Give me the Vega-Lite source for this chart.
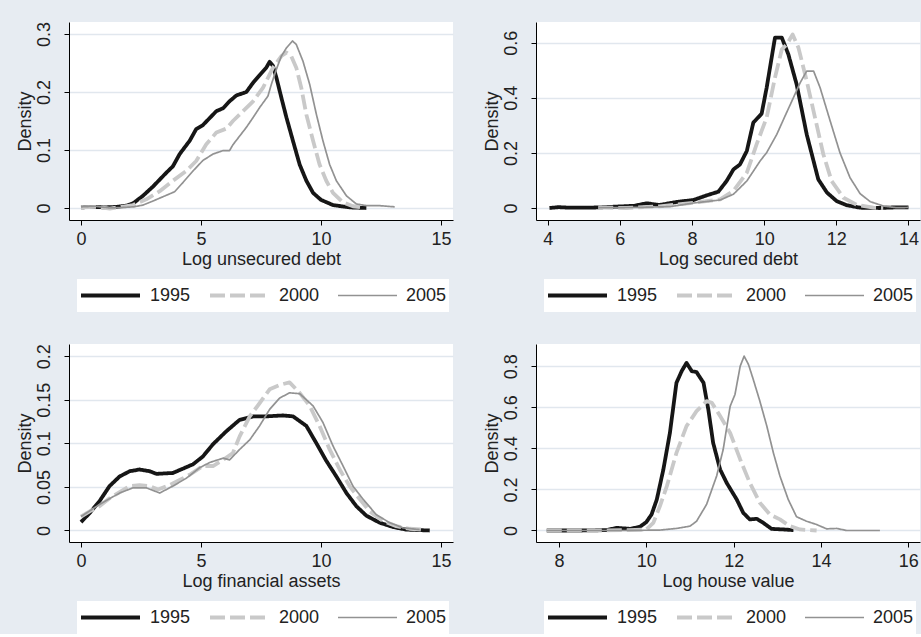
{
  "$schema": "https://vega.github.io/schema/vega-lite/v6.json",
  "background": "#E7ECF2",
  "padding": {"left": 15, "top": 21, "right": 1, "bottom": 0},
  "autosize": {"type": "pad"},
  "columns": 2,
  "spacing": {"row": 124, "column": 83},
  "bounds": "flush",
  "resolve": {
    "scale": {"x": "independent", "y": "independent"},
    "legend": {"color": "independent", "strokeDash": "independent", "strokeWidth": "independent"}
  },
  "config": {
    "view": {"fill": "white", "stroke": null},
    "axis": {
      "domainColor": "#000", "domainWidth": 1, "tickColor": "#000", "tickSize": 5, "tickWidth": 1,
      "labelFont": "Liberation Sans", "labelFontSize": 18, "labelColor": "#222",
      "titleFont": "Liberation Sans", "titleFontSize": 18, "titleFontWeight": "normal", "titleColor": "#222",
      "gridColor": "#E1E7EE", "gridWidth": 1.5
    },
    "axisX": {"grid": false, "labelPadding": 5, "titlePadding": 2},
    "axisY": {"grid": true, "labelAngle": 270, "labelAlign": "center", "labelBaseline": "bottom", "labelPadding": 11, "titlePadding": 1, "format": "~g"},
    "legend": {
      "direction": "horizontal", "fillColor": "white", "padding": 2, "clipHeight": 29,
      "symbolType": "stroke", "symbolSize": 3481, "labelFont": "Liberation Sans", "labelFontSize": 18,
      "labelColor": "#222", "labelOffset": 8, "columnPadding": 17
    }
  },
  "datasets": {
    "p1": [
      {"x":0,"density":0.001,"year":"1995"},{"x":0.5,"density":0.002,"year":"1995"},{"x":1,"density":0.001,"year":"1995"},{"x":1.5,"density":0.002,"year":"1995"},{"x":1.9,"density":0.004,"year":"1995"},{"x":2.17,"density":0.008,"year":"1995"},{"x":2.58,"density":0.021,"year":"1995"},{"x":3.0,"density":0.037,"year":"1995"},{"x":3.56,"density":0.061,"year":"1995"},{"x":3.83,"density":0.072,"year":"1995"},{"x":4.11,"density":0.093,"year":"1995"},{"x":4.53,"density":0.116,"year":"1995"},{"x":4.8,"density":0.136,"year":"1995"},{"x":5.08,"density":0.143,"year":"1995"},{"x":5.36,"density":0.155,"year":"1995"},{"x":5.64,"density":0.167,"year":"1995"},{"x":5.92,"density":0.172,"year":"1995"},{"x":6.19,"density":0.184,"year":"1995"},{"x":6.47,"density":0.194,"year":"1995"},{"x":6.89,"density":0.2,"year":"1995"},{"x":7.17,"density":0.216,"year":"1995"},{"x":7.44,"density":0.229,"year":"1995"},{"x":7.72,"density":0.242,"year":"1995"},{"x":7.86,"density":0.252,"year":"1995"},{"x":8.0,"density":0.245,"year":"1995"},{"x":8.14,"density":0.225,"year":"1995"},{"x":8.35,"density":0.19,"year":"1995"},{"x":8.56,"density":0.156,"year":"1995"},{"x":8.83,"density":0.116,"year":"1995"},{"x":9.11,"density":0.075,"year":"1995"},{"x":9.39,"density":0.047,"year":"1995"},{"x":9.67,"density":0.026,"year":"1995"},{"x":10.0,"density":0.014,"year":"1995"},{"x":10.5,"density":0.005,"year":"1995"},{"x":11.2,"density":0.001,"year":"1995"},{"x":11.89,"density":0,"year":"1995"},
      {"x":0,"density":0.001,"year":"2000"},{"x":0.7,"density":0.002,"year":"2000"},{"x":1.2,"density":-0.001,"year":"2000"},{"x":1.7,"density":0.002,"year":"2000"},{"x":2.17,"density":0.005,"year":"2000"},{"x":2.72,"density":0.015,"year":"2000"},{"x":3.28,"density":0.029,"year":"2000"},{"x":3.83,"density":0.047,"year":"2000"},{"x":4.39,"density":0.064,"year":"2000"},{"x":4.8,"density":0.081,"year":"2000"},{"x":5.22,"density":0.11,"year":"2000"},{"x":5.64,"density":0.13,"year":"2000"},{"x":6.06,"density":0.137,"year":"2000"},{"x":6.33,"density":0.15,"year":"2000"},{"x":6.75,"density":0.167,"year":"2000"},{"x":7.17,"density":0.184,"year":"2000"},{"x":7.58,"density":0.207,"year":"2000"},{"x":8.0,"density":0.242,"year":"2000"},{"x":8.35,"density":0.262,"year":"2000"},{"x":8.56,"density":0.268,"year":"2000"},{"x":8.76,"density":0.262,"year":"2000"},{"x":8.97,"density":0.242,"year":"2000"},{"x":9.18,"density":0.207,"year":"2000"},{"x":9.39,"density":0.161,"year":"2000"},{"x":9.67,"density":0.116,"year":"2000"},{"x":9.94,"density":0.075,"year":"2000"},{"x":10.22,"density":0.047,"year":"2000"},{"x":10.5,"density":0.026,"year":"2000"},{"x":10.9,"density":0.01,"year":"2000"},{"x":11.33,"density":0.003,"year":"2000"},{"x":11.75,"density":0.001,"year":"2000"},
      {"x":0,"density":0.002,"year":"2005"},{"x":0.6,"density":0.003,"year":"2005"},{"x":1.2,"density":0,"year":"2005"},{"x":1.8,"density":0.001,"year":"2005"},{"x":2.2,"density":0.002,"year":"2005"},{"x":2.58,"density":0.005,"year":"2005"},{"x":3.0,"density":0.012,"year":"2005"},{"x":3.56,"density":0.022,"year":"2005"},{"x":3.9,"density":0.028,"year":"2005"},{"x":4.25,"density":0.044,"year":"2005"},{"x":4.67,"density":0.064,"year":"2005"},{"x":5.08,"density":0.082,"year":"2005"},{"x":5.5,"density":0.093,"year":"2005"},{"x":5.92,"density":0.099,"year":"2005"},{"x":6.19,"density":0.099,"year":"2005"},{"x":6.33,"density":0.109,"year":"2005"},{"x":6.61,"density":0.124,"year":"2005"},{"x":6.89,"density":0.139,"year":"2005"},{"x":7.17,"density":0.156,"year":"2005"},{"x":7.44,"density":0.173,"year":"2005"},{"x":7.79,"density":0.193,"year":"2005"},{"x":7.93,"density":0.213,"year":"2005"},{"x":8.14,"density":0.239,"year":"2005"},{"x":8.35,"density":0.262,"year":"2005"},{"x":8.56,"density":0.276,"year":"2005"},{"x":8.81,"density":0.288,"year":"2005"},{"x":8.97,"density":0.282,"year":"2005"},{"x":9.25,"density":0.253,"year":"2005"},{"x":9.53,"density":0.213,"year":"2005"},{"x":9.81,"density":0.161,"year":"2005"},{"x":10.08,"density":0.116,"year":"2005"},{"x":10.36,"density":0.075,"year":"2005"},{"x":10.64,"density":0.047,"year":"2005"},{"x":11.06,"density":0.021,"year":"2005"},{"x":11.47,"density":0.007,"year":"2005"},{"x":11.89,"density":0.004,"year":"2005"},{"x":12.44,"density":0.004,"year":"2005"},{"x":13.07,"density":0.002,"year":"2005"}
    ],
    "p2": [
      {"x":4.05,"density":0,"year":"1995"},{"x":4.3,"density":0.003,"year":"1995"},{"x":4.6,"density":0.001,"year":"1995"},{"x":5.0,"density":0.001,"year":"1995"},{"x":5.4,"density":0.002,"year":"1995"},{"x":5.9,"density":0.005,"year":"1995"},{"x":6.4,"density":0.008,"year":"1995"},{"x":6.74,"density":0.017,"year":"1995"},{"x":7.1,"density":0.011,"year":"1995"},{"x":7.58,"density":0.022,"year":"1995"},{"x":8.04,"density":0.029,"year":"1995"},{"x":8.41,"density":0.046,"year":"1995"},{"x":8.73,"density":0.059,"year":"1995"},{"x":8.96,"density":0.098,"year":"1995"},{"x":9.15,"density":0.14,"year":"1995"},{"x":9.33,"density":0.158,"year":"1995"},{"x":9.52,"density":0.207,"year":"1995"},{"x":9.7,"density":0.31,"year":"1995"},{"x":9.93,"density":0.342,"year":"1995"},{"x":10.07,"density":0.437,"year":"1995"},{"x":10.3,"density":0.618,"year":"1995"},{"x":10.49,"density":0.618,"year":"1995"},{"x":10.67,"density":0.558,"year":"1995"},{"x":10.9,"density":0.449,"year":"1995"},{"x":11.18,"density":0.267,"year":"1995"},{"x":11.5,"density":0.104,"year":"1995"},{"x":11.74,"density":0.056,"year":"1995"},{"x":12.01,"density":0.025,"year":"1995"},{"x":12.29,"density":0.01,"year":"1995"},{"x":12.66,"density":0.001,"year":"1995"},{"x":13.2,"density":0,"year":"1995"},{"x":13.6,"density":0.002,"year":"1995"},{"x":14.0,"density":0.002,"year":"1995"},
      {"x":5.4,"density":0.002,"year":"2000"},{"x":6.19,"density":0,"year":"2000"},{"x":7.1,"density":0.006,"year":"2000"},{"x":8.04,"density":0.019,"year":"2000"},{"x":8.78,"density":0.031,"year":"2000"},{"x":9.15,"density":0.062,"year":"2000"},{"x":9.52,"density":0.128,"year":"2000"},{"x":9.79,"density":0.231,"year":"2000"},{"x":10.07,"density":0.328,"year":"2000"},{"x":10.3,"density":0.473,"year":"2000"},{"x":10.49,"density":0.576,"year":"2000"},{"x":10.63,"density":0.594,"year":"2000"},{"x":10.79,"density":0.63,"year":"2000"},{"x":10.95,"density":0.582,"year":"2000"},{"x":11.18,"density":0.461,"year":"2000"},{"x":11.41,"density":0.328,"year":"2000"},{"x":11.64,"density":0.195,"year":"2000"},{"x":11.87,"density":0.098,"year":"2000"},{"x":12.2,"density":0.037,"year":"2000"},{"x":12.57,"density":0.011,"year":"2000"},{"x":13.03,"density":0.001,"year":"2000"},{"x":13.3,"density":0,"year":"2000"},
      {"x":5.4,"density":0.001,"year":"2005"},{"x":6.5,"density":0.002,"year":"2005"},{"x":7.4,"density":0.005,"year":"2005"},{"x":8.04,"density":0.018,"year":"2005"},{"x":8.78,"density":0.029,"year":"2005"},{"x":9.15,"density":0.05,"year":"2005"},{"x":9.52,"density":0.098,"year":"2005"},{"x":9.89,"density":0.171,"year":"2005"},{"x":10.07,"density":0.201,"year":"2005"},{"x":10.35,"density":0.267,"year":"2005"},{"x":10.58,"density":0.334,"year":"2005"},{"x":10.81,"density":0.4,"year":"2005"},{"x":11.0,"density":0.455,"year":"2005"},{"x":11.18,"density":0.497,"year":"2005"},{"x":11.37,"density":0.497,"year":"2005"},{"x":11.55,"density":0.437,"year":"2005"},{"x":11.83,"density":0.316,"year":"2005"},{"x":12.1,"density":0.201,"year":"2005"},{"x":12.38,"density":0.11,"year":"2005"},{"x":12.66,"density":0.052,"year":"2005"},{"x":12.94,"density":0.023,"year":"2005"},{"x":13.31,"density":0.007,"year":"2005"},{"x":13.68,"density":0.001,"year":"2005"},{"x":14.0,"density":0.002,"year":"2005"}
    ],
    "p3": [
      {"x":0,"density":0.0096,"year":"1995"},{"x":0.36,"density":0.02,"year":"1995"},{"x":0.78,"density":0.034,"year":"1995"},{"x":1.19,"density":0.051,"year":"1995"},{"x":1.61,"density":0.062,"year":"1995"},{"x":2.03,"density":0.068,"year":"1995"},{"x":2.44,"density":0.07,"year":"1995"},{"x":2.86,"density":0.068,"year":"1995"},{"x":3.14,"density":0.065,"year":"1995"},{"x":3.83,"density":0.066,"year":"1995"},{"x":4.25,"density":0.071,"year":"1995"},{"x":4.67,"density":0.076,"year":"1995"},{"x":5.08,"density":0.085,"year":"1995"},{"x":5.5,"density":0.099,"year":"1995"},{"x":6.06,"density":0.114,"year":"1995"},{"x":6.61,"density":0.127,"year":"1995"},{"x":7.17,"density":0.131,"year":"1995"},{"x":7.72,"density":0.131,"year":"1995"},{"x":8.42,"density":0.132,"year":"1995"},{"x":8.83,"density":0.131,"year":"1995"},{"x":9.39,"density":0.12,"year":"1995"},{"x":9.81,"density":0.1,"year":"1995"},{"x":10.22,"density":0.08,"year":"1995"},{"x":10.64,"density":0.062,"year":"1995"},{"x":11.06,"density":0.043,"year":"1995"},{"x":11.47,"density":0.028,"year":"1995"},{"x":11.89,"density":0.017,"year":"1995"},{"x":12.44,"density":0.009,"year":"1995"},{"x":13.0,"density":0.004,"year":"1995"},{"x":13.56,"density":0.001,"year":"1995"},{"x":14.53,"density":0,"year":"1995"},
      {"x":0,"density":0.016,"year":"2000"},{"x":0.36,"density":0.022,"year":"2000"},{"x":0.78,"density":0.028,"year":"2000"},{"x":1.19,"density":0.037,"year":"2000"},{"x":1.61,"density":0.044,"year":"2000"},{"x":2.03,"density":0.051,"year":"2000"},{"x":2.44,"density":0.052,"year":"2000"},{"x":2.86,"density":0.051,"year":"2000"},{"x":3.21,"density":0.047,"year":"2000"},{"x":3.69,"density":0.052,"year":"2000"},{"x":4.11,"density":0.058,"year":"2000"},{"x":4.53,"density":0.064,"year":"2000"},{"x":5.08,"density":0.074,"year":"2000"},{"x":5.5,"density":0.074,"year":"2000"},{"x":5.92,"density":0.081,"year":"2000"},{"x":6.33,"density":0.089,"year":"2000"},{"x":6.61,"density":0.108,"year":"2000"},{"x":7.03,"density":0.131,"year":"2000"},{"x":7.44,"density":0.146,"year":"2000"},{"x":7.86,"density":0.162,"year":"2000"},{"x":8.28,"density":0.167,"year":"2000"},{"x":8.69,"density":0.17,"year":"2000"},{"x":9.11,"density":0.158,"year":"2000"},{"x":9.53,"density":0.143,"year":"2000"},{"x":9.94,"density":0.12,"year":"2000"},{"x":10.36,"density":0.093,"year":"2000"},{"x":10.78,"density":0.07,"year":"2000"},{"x":11.19,"density":0.051,"year":"2000"},{"x":11.61,"density":0.036,"year":"2000"},{"x":12.03,"density":0.022,"year":"2000"},{"x":12.58,"density":0.011,"year":"2000"},{"x":13.14,"density":0.005,"year":"2000"},{"x":13.69,"density":0.002,"year":"2000"},{"x":14.25,"density":0.001,"year":"2000"},
      {"x":0,"density":0.016,"year":"2005"},{"x":0.78,"density":0.03,"year":"2005"},{"x":1.61,"density":0.043,"year":"2005"},{"x":2.17,"density":0.049,"year":"2005"},{"x":2.72,"density":0.049,"year":"2005"},{"x":3.28,"density":0.043,"year":"2005"},{"x":3.83,"density":0.051,"year":"2005"},{"x":4.39,"density":0.06,"year":"2005"},{"x":4.94,"density":0.072,"year":"2005"},{"x":5.36,"density":0.078,"year":"2005"},{"x":5.92,"density":0.083,"year":"2005"},{"x":6.19,"density":0.081,"year":"2005"},{"x":6.61,"density":0.093,"year":"2005"},{"x":7.03,"density":0.104,"year":"2005"},{"x":7.44,"density":0.12,"year":"2005"},{"x":7.86,"density":0.139,"year":"2005"},{"x":8.28,"density":0.152,"year":"2005"},{"x":8.69,"density":0.158,"year":"2005"},{"x":9.11,"density":0.157,"year":"2005"},{"x":9.67,"density":0.143,"year":"2005"},{"x":10.08,"density":0.124,"year":"2005"},{"x":10.5,"density":0.097,"year":"2005"},{"x":10.92,"density":0.074,"year":"2005"},{"x":11.33,"density":0.051,"year":"2005"},{"x":11.75,"density":0.036,"year":"2005"},{"x":12.31,"density":0.018,"year":"2005"},{"x":12.86,"density":0.009,"year":"2005"},{"x":13.42,"density":0.003,"year":"2005"},{"x":14.11,"density":0.001,"year":"2005"}
    ],
    "p4": [
      {"x":7.72,"density":0,"year":"1995"},{"x":8.5,"density":0,"year":"1995"},{"x":9.09,"density":0.002,"year":"1995"},{"x":9.32,"density":0.013,"year":"1995"},{"x":9.63,"density":0.008,"year":"1995"},{"x":9.85,"density":0.018,"year":"1995"},{"x":10.0,"density":0.041,"year":"1995"},{"x":10.12,"density":0.078,"year":"1995"},{"x":10.24,"density":0.151,"year":"1995"},{"x":10.39,"density":0.297,"year":"1995"},{"x":10.54,"density":0.475,"year":"1995"},{"x":10.69,"density":0.719,"year":"1995"},{"x":10.81,"density":0.776,"year":"1995"},{"x":10.92,"density":0.816,"year":"1995"},{"x":11.04,"density":0.776,"year":"1995"},{"x":11.15,"density":0.771,"year":"1995"},{"x":11.31,"density":0.719,"year":"1995"},{"x":11.42,"density":0.589,"year":"1995"},{"x":11.53,"density":0.427,"year":"1995"},{"x":11.69,"density":0.297,"year":"1995"},{"x":11.84,"density":0.232,"year":"1995"},{"x":12.07,"density":0.151,"year":"1995"},{"x":12.22,"density":0.086,"year":"1995"},{"x":12.37,"density":0.054,"year":"1995"},{"x":12.53,"density":0.057,"year":"1995"},{"x":12.68,"density":0.037,"year":"1995"},{"x":12.87,"density":0.008,"year":"1995"},{"x":13.14,"density":0.005,"year":"1995"},{"x":13.37,"density":0.002,"year":"1995"},
      {"x":7.72,"density":0,"year":"2000"},{"x":9.0,"density":0,"year":"2000"},{"x":9.6,"density":0.002,"year":"2000"},{"x":10.0,"density":0.005,"year":"2000"},{"x":10.16,"density":0.037,"year":"2000"},{"x":10.31,"density":0.118,"year":"2000"},{"x":10.47,"density":0.216,"year":"2000"},{"x":10.69,"density":0.378,"year":"2000"},{"x":10.92,"density":0.508,"year":"2000"},{"x":11.15,"density":0.581,"year":"2000"},{"x":11.38,"density":0.63,"year":"2000"},{"x":11.5,"density":0.622,"year":"2000"},{"x":11.69,"density":0.557,"year":"2000"},{"x":11.92,"density":0.475,"year":"2000"},{"x":12.15,"density":0.346,"year":"2000"},{"x":12.37,"density":0.232,"year":"2000"},{"x":12.6,"density":0.135,"year":"2000"},{"x":12.83,"density":0.078,"year":"2000"},{"x":13.06,"density":0.054,"year":"2000"},{"x":13.29,"density":0.021,"year":"2000"},{"x":13.52,"density":0.005,"year":"2000"},{"x":13.9,"density":0,"year":"2000"},
      {"x":7.72,"density":0,"year":"2005"},{"x":9.5,"density":0,"year":"2005"},{"x":10.31,"density":0.002,"year":"2005"},{"x":10.69,"density":0.01,"year":"2005"},{"x":11.0,"density":0.021,"year":"2005"},{"x":11.15,"density":0.045,"year":"2005"},{"x":11.38,"density":0.127,"year":"2005"},{"x":11.61,"density":0.265,"year":"2005"},{"x":11.76,"density":0.394,"year":"2005"},{"x":11.92,"density":0.605,"year":"2005"},{"x":12.03,"density":0.662,"year":"2005"},{"x":12.15,"density":0.8,"year":"2005"},{"x":12.24,"density":0.849,"year":"2005"},{"x":12.34,"density":0.808,"year":"2005"},{"x":12.45,"density":0.735,"year":"2005"},{"x":12.6,"density":0.63,"year":"2005"},{"x":12.76,"density":0.508,"year":"2005"},{"x":12.91,"density":0.378,"year":"2005"},{"x":13.06,"density":0.265,"year":"2005"},{"x":13.25,"density":0.151,"year":"2005"},{"x":13.44,"density":0.067,"year":"2005"},{"x":13.67,"density":0.045,"year":"2005"},{"x":13.9,"density":0.029,"year":"2005"},{"x":14.13,"density":0.008,"year":"2005"},{"x":14.36,"density":0.01,"year":"2005"},{"x":14.59,"density":0,"year":"2005"},{"x":15.35,"density":0,"year":"2005"}
    ]
  },
  "concat": [
    {
      "width": 384, "height": 198,
      "data": {"name": "p1"},
      "mark": {"type": "line", "strokeJoin": "round"},
      "encoding": {
        "x": {"field": "x", "type": "quantitative", "scale": {"domain": [-0.5, 15.5], "nice": false, "zero": false}, "axis": {"values": [0, 5, 10, 15], "title": "Log unsecured debt"}},
        "y": {"field": "density", "type": "quantitative", "scale": {"domain": [-0.0207, 0.3207], "nice": false, "zero": false}, "axis": {"values": [0, 0.1, 0.2, 0.3], "title": "Density"}},
        "color": {"field": "year", "type": "ordinal", "scale": {"domain": ["1995", "2000", "2005"], "range": ["#161616", "#C9C9C9", "#929292"]}, "legend": {"title": null, "orient": "none", "legendX": 8, "legendY": 257}},
        "strokeDash": {"field": "year", "type": "ordinal", "scale": {"domain": ["1995", "2000", "2005"], "range": [[1, 0], [15, 5], [1, 0]]}},
        "strokeWidth": {"field": "year", "type": "ordinal", "scale": {"type": "ordinal", "domain": ["1995", "2000", "2005"], "range": [3.8, 3.8, 1.7]}}
      }
    },
    {
      "width": 384, "height": 198,
      "data": {"name": "p2"},
      "mark": {"type": "line", "strokeJoin": "round"},
      "encoding": {
        "x": {"field": "x", "type": "quantitative", "scale": {"domain": [3.676, 14.32], "nice": false, "zero": false}, "axis": {"values": [4, 6, 8, 10, 12, 14], "title": "Log secured debt"}},
        "y": {"field": "density", "type": "quantitative", "scale": {"domain": [-0.0436, 0.675], "nice": false, "zero": false}, "axis": {"values": [0, 0.2, 0.4, 0.6], "title": "Density"}},
        "color": {"field": "year", "type": "ordinal", "scale": {"domain": ["1995", "2000", "2005"], "range": ["#161616", "#C9C9C9", "#929292"]}, "legend": {"title": null, "orient": "none", "legendX": 8, "legendY": 257}},
        "strokeDash": {"field": "year", "type": "ordinal", "scale": {"domain": ["1995", "2000", "2005"], "range": [[1, 0], [15, 5], [1, 0]]}},
        "strokeWidth": {"field": "year", "type": "ordinal", "scale": {"type": "ordinal", "domain": ["1995", "2000", "2005"], "range": [3.8, 3.8, 1.7]}}
      }
    },
    {
      "width": 384, "height": 198,
      "data": {"name": "p3"},
      "mark": {"type": "line", "strokeJoin": "round"},
      "encoding": {
        "x": {"field": "x", "type": "quantitative", "scale": {"domain": [-0.5, 15.5], "nice": false, "zero": false}, "axis": {"values": [0, 5, 10, 15], "title": "Log financial assets"}},
        "y": {"field": "density", "type": "quantitative", "scale": {"domain": [-0.0132, 0.214], "nice": false, "zero": false}, "axis": {"values": [0, 0.05, 0.1, 0.15, 0.2], "title": "Density"}},
        "color": {"field": "year", "type": "ordinal", "scale": {"domain": ["1995", "2000", "2005"], "range": ["#161616", "#C9C9C9", "#929292"]}, "legend": {"title": null, "orient": "none", "legendX": 8, "legendY": 257}},
        "strokeDash": {"field": "year", "type": "ordinal", "scale": {"domain": ["1995", "2000", "2005"], "range": [[1, 0], [15, 5], [1, 0]]}},
        "strokeWidth": {"field": "year", "type": "ordinal", "scale": {"type": "ordinal", "domain": ["1995", "2000", "2005"], "range": [3.8, 3.8, 1.7]}}
      }
    },
    {
      "width": 384, "height": 198,
      "data": {"name": "p4"},
      "mark": {"type": "line", "strokeJoin": "round"},
      "encoding": {
        "x": {"field": "x", "type": "quantitative", "scale": {"domain": [7.473, 16.268], "nice": false, "zero": false}, "axis": {"values": [8, 10, 12, 14, 16], "title": "Log house value"}},
        "y": {"field": "density", "type": "quantitative", "scale": {"domain": [-0.056, 0.908], "nice": false, "zero": false}, "axis": {"values": [0, 0.2, 0.4, 0.6, 0.8], "title": "Density"}},
        "color": {"field": "year", "type": "ordinal", "scale": {"domain": ["1995", "2000", "2005"], "range": ["#161616", "#C9C9C9", "#929292"]}, "legend": {"title": null, "orient": "none", "legendX": 8, "legendY": 257}},
        "strokeDash": {"field": "year", "type": "ordinal", "scale": {"domain": ["1995", "2000", "2005"], "range": [[1, 0], [15, 5], [1, 0]]}},
        "strokeWidth": {"field": "year", "type": "ordinal", "scale": {"type": "ordinal", "domain": ["1995", "2000", "2005"], "range": [3.8, 3.8, 1.7]}}
      }
    }
  ]
}
